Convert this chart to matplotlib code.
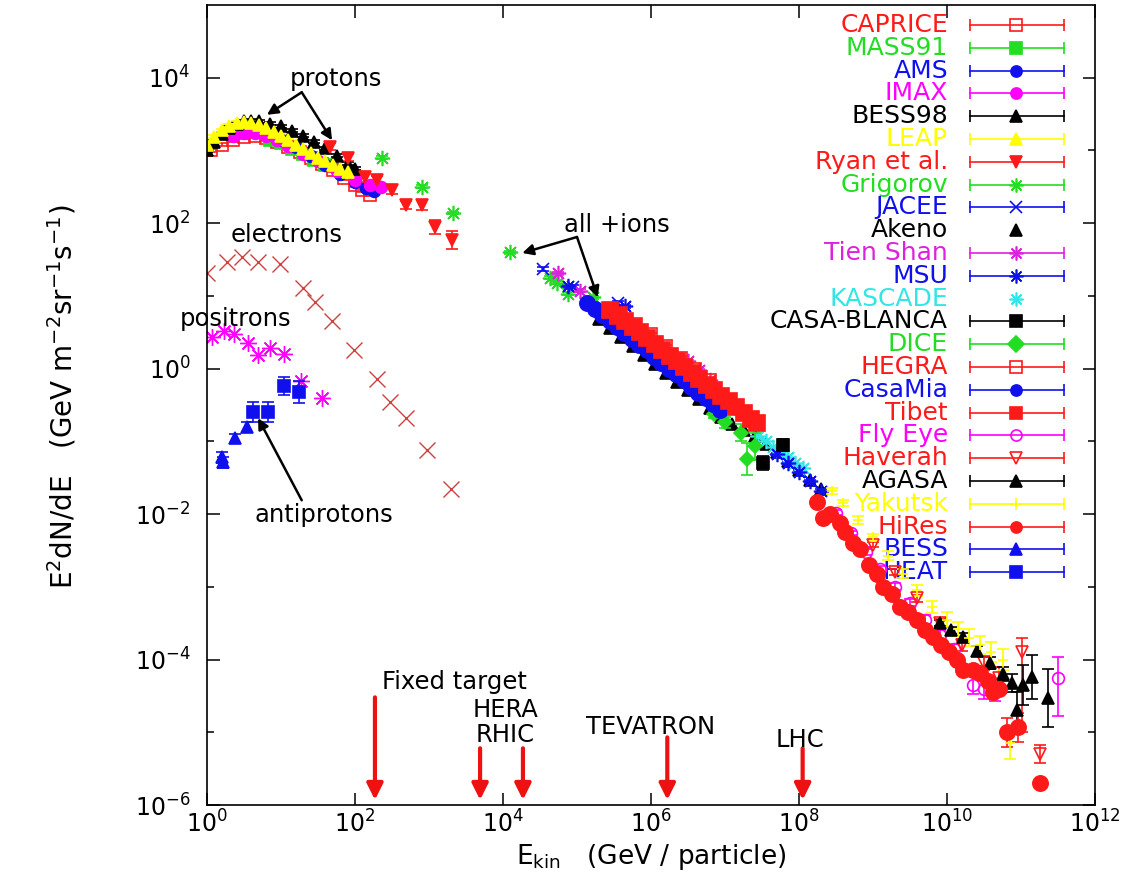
import numpy as np
import matplotlib
matplotlib.use("Agg")
import matplotlib.pyplot as plt
from matplotlib.ticker import NullLocator, NullFormatter, FuncFormatter, FixedLocator

plt.rcParams['font.family'] = 'DejaVu Sans'
plt.rcParams['mathtext.default'] = 'regular'

# all values as log10(E_kin / GeV), log10(E^2 dN/dE); errors in dex
caprice_x = [0.05, 0.2, 0.35, 0.5, 0.65, 0.8, 0.95, 1.1, 1.25, 1.4, 1.55, 1.7, 1.85, 2.0, 2.1, 2.2]
caprice_y = [3.0, 3.08, 3.14, 3.18, 3.2, 3.17, 3.12, 3.05, 2.98, 2.9, 2.82, 2.73, 2.62, 2.52, 2.45, 2.39]
caprice_e = [0.02] * 16

mass91_x = [0.85, 1.0, 1.15, 1.3, 1.45, 1.6]
mass91_y = [3.15, 3.1, 3.02, 2.95, 2.87, 2.8]
mass91_e = [0.02] * 6

ams_x = [1.0, 1.2, 1.4, 1.6, 1.8, 2.0, 2.15, 2.25]
ams_y = [3.15, 3.05, 2.93, 2.8, 2.68, 2.57, 2.48, 2.44]
ams_e = [0.02] * 8

imax_x = [0.35, 0.5, 0.65, 0.8, 0.95, 1.1, 1.3, 1.5, 1.75, 2.0, 2.2, 2.35]
imax_y = [3.2, 3.24, 3.24, 3.2, 3.14, 3.06, 2.95, 2.85, 2.72, 2.6, 2.52, 2.5]
imax_e = [0.02] * 12

bess98_x = [0.0, 0.1, 0.2, 0.3, 0.4, 0.5, 0.6, 0.7, 0.85, 1.0, 1.15, 1.3, 1.45, 1.6, 1.75, 1.9, 2.0]
bess98_y = [3.0, 3.12, 3.23, 3.31, 3.37, 3.40, 3.41, 3.40, 3.37, 3.33, 3.27, 3.2, 3.12, 3.03, 2.93, 2.82, 2.75]
bess98_e = [0.02] * 17

leap_x = [0.0, 0.1, 0.2, 0.3, 0.4, 0.5, 0.6, 0.7, 0.8, 0.9, 1.0, 1.1, 1.2, 1.3, 1.4, 1.5, 1.6, 1.7, 1.8, 1.9]
leap_y = [3.08, 3.19, 3.28, 3.34, 3.38, 3.39, 3.38, 3.35, 3.31, 3.26, 3.20, 3.14, 3.08, 3.02, 2.96, 2.9, 2.85, 2.8, 2.75, 2.71]
leap_e = [0.02] * 20

ryan_x = [1.66, 1.9, 2.14, 2.3, 2.5, 2.69, 2.9, 3.08, 3.31]
ryan_y = [3.05, 2.9, 2.63, 2.59, 2.46, 2.25, 2.25, 1.95, 1.77]
ryan_e = [0.05, 0.05, 0.06, 0.06, 0.06, 0.05, 0.07, 0.1, 0.12]

grigorov_x = [2.37, 2.91, 3.32, 4.09, 4.64, 4.73, 4.88, 5.22]
grigorov_y = [2.9, 2.5, 2.14, 1.6, 1.25, 1.18, 1.03, 0.98]
grigorov_e = [0.02] * 8

jacee_x = [4.54, 4.95, 5.55]
jacee_y = [1.37, 1.12, 0.90]
jacee_e = [0.03, 0.03, 0.03]

akeno_x = [5.3, 5.45, 5.6, 5.75, 5.9, 6.05, 6.2, 6.35, 6.5, 6.65, 6.8, 6.95, 7.1, 7.25, 7.4,
           7.55, 7.7, 7.85, 8.0, 8.15, 8.3]
akeno_y = [0.68, 0.56, 0.44, 0.31, 0.19, 0.07, -0.06, -0.18, -0.30, -0.42, -0.54, -0.66, -0.76,
           -0.85, -0.93, -1.03, -1.15, -1.27, -1.40, -1.53, -1.66]

tienshan_x = [4.74, 5.04, 6.5, 6.65, 6.8]
tienshan_y = [1.31, 1.07, 0.10, -0.02, -0.15]
tienshan_e = [0.02] * 5

msu_x = [4.88, 5.65, 7.7, 7.85, 8.0, 8.15, 8.3]
msu_y = [1.13, 0.86, -1.18, -1.30, -1.42, -1.55, -1.68]
msu_e = [0.02] * 7

kascade_x = [7.45, 7.55, 7.65, 7.75, 7.85, 7.95, 8.05]
kascade_y = [-0.92, -1.0, -1.08, -1.15, -1.22, -1.30, -1.37]

casablanca_x = [7.52, 7.78]
casablanca_y = [-1.30, -1.05]
casablanca_e = [0.1, 0.08]

dice_x = [6.85, 7.0, 7.22, 7.30, 7.41]
dice_y = [-0.62, -0.74, -0.88, -1.24, -1.07]
dice_e = [0.06, 0.08, 0.12, 0.22, 0.18]

hegra_x = [5.6, 5.8, 6.0, 6.2, 6.4, 6.6, 6.8]
hegra_y = [0.77, 0.62, 0.47, 0.31, 0.15, 0.0, -0.15]
hegra_e = [0.02] * 7

casamia_x = [5.14, 5.24, 5.34, 5.44, 5.54, 5.64, 5.74, 5.84, 5.94, 6.04, 6.14, 6.24, 6.34,
             6.44, 6.54, 6.64, 6.74, 6.84, 6.93]
casamia_y = [0.90, 0.82, 0.74, 0.66, 0.57, 0.49, 0.41, 0.33, 0.25, 0.16, 0.08, 0.00, -0.08,
             -0.16, -0.25, -0.33, -0.41, -0.49, -0.57]
casamia_e = [0.02] * 19

tibet_x = [5.45, 5.55, 5.65, 5.75, 5.85, 5.95, 6.05, 6.15, 6.25, 6.35, 6.45, 6.55, 6.65, 6.75,
           6.85, 6.95, 7.05, 7.15, 7.25, 7.35, 7.43]
tibet_y = [0.81, 0.73, 0.65, 0.57, 0.50, 0.42, 0.34, 0.26, 0.18, 0.10, 0.02, -0.06, -0.14, -0.22,
           -0.30, -0.38, -0.45, -0.53, -0.61, -0.69, -0.75]
tibet_e = [0.02] * 21

flyeye_x = [8.5, 8.7, 8.9, 9.1, 9.3, 9.5, 9.7, 9.9, 10.1, 10.35, 10.5, 10.65, 11.5]
flyeye_y = [-1.98, -2.26, -2.52, -2.76, -3.0, -3.22, -3.45, -3.66, -3.86, -4.35, -4.4, -4.42, -4.25]
flyeye_e = [[0.03, 0.03, 0.04, 0.04, 0.05, 0.05, 0.06, 0.07, 0.08, 0.12, 0.14, 0.15, 0.52],
            [0.03, 0.03, 0.04, 0.04, 0.05, 0.05, 0.06, 0.07, 0.08, 0.12, 0.14, 0.15, 0.28]]

haverah_x = [9.0, 9.3, 9.6, 9.9, 10.2, 10.5, 10.7, 11.01, 11.26]
haverah_y = [-2.42, -2.80, -3.16, -3.50, -3.80, -4.05, -4.25, -3.90, -5.30]
haverah_e = [[0.03, 0.04, 0.05, 0.06, 0.08, 0.1, 0.15, 1.1, 0.12],
             [0.03, 0.04, 0.05, 0.06, 0.08, 0.1, 0.15, 0.2, 0.12]]

agasa_x = [9.9, 10.05, 10.22, 10.4, 10.58, 10.75, 10.88, 10.95, 11.03, 11.15, 11.36]
agasa_y = [-3.5, -3.6, -3.69, -3.88, -4.05, -4.2, -4.32, -4.70, -4.35, -4.24, -4.53]
agasa_e = [0.04, 0.05, 0.06, 0.07, 0.08, 0.1, 0.12, 0.25, 0.28, 0.3, 0.4]

yakutsk_x = [8.45, 8.6, 8.8, 9.0, 9.2, 9.4, 9.6, 9.8, 10.0, 10.15, 10.3, 10.45, 10.6, 10.75, 10.85]
yakutsk_y = [-1.68, -1.85, -2.08, -2.32, -2.57, -2.82, -3.05, -3.28, -3.45, -3.58, -3.70, -3.80,
             -3.90, -4.0, -5.15]
yakutsk_e = [0.04, 0.04, 0.05, 0.05, 0.06, 0.06, 0.07, 0.08, 0.1, 0.1, 0.12, 0.13, 0.14, 0.15, 0.22]

hires_x = [8.24, 8.32, 8.42, 8.55, 8.62, 8.73, 8.82, 8.95, 9.05, 9.14, 9.25, 9.36, 9.47, 9.59,
           9.70, 9.81, 9.92, 10.03, 10.13, 10.22, 10.35, 10.45, 10.55, 10.62, 10.70, 10.81,
           10.96, 11.26]
hires_y = [-1.84, -2.05, -2.00, -2.12, -2.25, -2.40, -2.48, -2.70, -2.82, -3.00, -3.10, -3.28,
           -3.35, -3.46, -3.60, -3.69, -3.80, -3.90, -4.00, -4.14, -4.15, -4.19, -4.30, -4.45,
           -4.40, -5.00, -4.93, -5.70]
hires_e = [0.02] * 25 + [0.2, 0.2, 0.03]

bess_x = [0.2, 0.22, 0.38, 0.54]
bess_y = [-1.22, -1.29, -0.96, -0.80]
bess_e = [0.08, 0.08, 0.06, 0.07]

heat_x = [0.62, 0.82, 1.04, 1.24]
heat_y = [-0.60, -0.60, -0.24, -0.32]
heat_e = [0.14, 0.14, 0.12, 0.15]

electron_x = [0.0, 0.27, 0.47, 0.69, 0.99, 1.30, 1.46, 1.69, 1.99, 2.30, 2.47, 2.69, 2.97, 3.30]
electron_y = [1.31, 1.46, 1.53, 1.46, 1.44, 1.11, 0.92, 0.65, 0.26, -0.14, -0.46, -0.68, -1.12, -1.66]

positron_x = [0.07, 0.23, 0.36, 0.55, 0.69, 0.85, 1.04, 1.27, 1.55]
positron_y = [0.43, 0.52, 0.48, 0.35, 0.19, 0.28, 0.20, -0.17, -0.40]

# accelerator energies (GeV) and where their arrows start
acc_E = [186, 4.9e3, 1.86e4, 1.66e6, 1.12e8]
acc_top = [10**-4.52, 10**-5.22, 10**-5.22, 10**-5.07, 10**-5.22]

RED, GREEN, BLUE = '#ff1a1a', '#22dd22', '#1010ee'
MAGENTA, BLACK, YELLOW, CYAN = '#ff00ff', '#000000', '#ffff00', '#33e6e6'
STAR = (8, 2, 0)

# name -> (colour, marker, filled, errorbar in key)
style = {
    'CAPRICE': (RED, 's', False, True),
    'MASS91': (GREEN, 's', True, True),
    'AMS': (BLUE, 'o', True, True),
    'IMAX': (MAGENTA, 'o', True, True),
    'BESS98': (BLACK, '^', True, True),
    'LEAP': (YELLOW, '^', True, True),
    'Ryan et al.': (RED, 'v', True, True),
    'Grigorov': (GREEN, STAR, True, True),
    'JACEE': (BLUE, 'x', True, True),
    'Akeno': (BLACK, '^', True, False),
    'Tien Shan': ('#dd22dd', STAR, True, True),
    'MSU': (BLUE, STAR, True, True),
    'KASCADE': (CYAN, STAR, True, False),
    'CASA-BLANCA': (BLACK, 's', True, True),
    'DICE': (GREEN, 'D', True, True),
    'HEGRA': (RED, 's', False, True),
    'CasaMia': (BLUE, 'o', True, True),
    'Tibet': (RED, 's', True, True),
    'Fly Eye': (MAGENTA, 'o', False, True),
    'Haverah': (RED, 'v', False, True),
    'AGASA': (BLACK, '^', True, True),
    'Yakutsk': (YELLOW, '+', True, True),
    'HiRes': (RED, 'o', True, True),
    'BESS': (BLUE, '^', True, True),
    'HEAT': (BLUE, 's', True, True),
}

data = {
    'CAPRICE': (caprice_x, caprice_y, caprice_e),
    'MASS91': (mass91_x, mass91_y, mass91_e),
    'AMS': (ams_x, ams_y, ams_e),
    'IMAX': (imax_x, imax_y, imax_e),
    'BESS98': (bess98_x, bess98_y, bess98_e),
    'LEAP': (leap_x, leap_y, leap_e),
    'Ryan et al.': (ryan_x, ryan_y, ryan_e),
    'Grigorov': (grigorov_x, grigorov_y, grigorov_e),
    'JACEE': (jacee_x, jacee_y, jacee_e),
    'Akeno': (akeno_x, akeno_y, None),
    'Tien Shan': (tienshan_x, tienshan_y, tienshan_e),
    'MSU': (msu_x, msu_y, msu_e),
    'KASCADE': (kascade_x, kascade_y, None),
    'CASA-BLANCA': (casablanca_x, casablanca_y, casablanca_e),
    'DICE': (dice_x, dice_y, dice_e),
    'HEGRA': (hegra_x, hegra_y, hegra_e),
    'CasaMia': (casamia_x, casamia_y, casamia_e),
    'Tibet': (tibet_x, tibet_y, tibet_e),
    'Fly Eye': (flyeye_x, flyeye_y, flyeye_e),
    'Haverah': (haverah_x, haverah_y, haverah_e),
    'AGASA': (agasa_x, agasa_y, agasa_e),
    'Yakutsk': (yakutsk_x, yakutsk_y, yakutsk_e),
    'HiRes': (hires_x, hires_y, hires_e),
    'BESS': (bess_x, bess_y, bess_e),
    'HEAT': (heat_x, heat_y, heat_e),
}

msizes = {'Tibet': 12, 'CasaMia': 11, 'HiRes': 11, 'DICE': 7, 'Yakutsk': 7, 'Akeno': 9}

fig = plt.figure(figsize=(11.27, 8.77), dpi=100)
ax = fig.add_axes([207 / 1127, 1 - 805 / 877, 888 / 1127, 800 / 877])
ax.set_xscale('log')
ax.set_yscale('log')

for i, name in enumerate(style):
    col, mk, filled, _ = style[name]
    lx, ly, le = data[name]
    E = 10.0 ** np.array(lx)
    F = 10.0 ** np.array(ly)
    ms = msizes.get(name, 11 if mk == STAR else 8.5)
    kw = dict(color=col, mec=col, mfc=col if filled else 'none', ms=ms, mew=1.2,
              marker=mk, linestyle='none', zorder=2 + 0.01 * i)
    if le is None:
        ax.plot(E, F, **kw)
        continue
    le = np.atleast_2d(le)
    lo, hi = le[0], le[-1]
    yerr = [F - 10.0 ** (np.array(ly) - lo), 10.0 ** (np.array(ly) + hi) - F]
    ax.errorbar(E, F, yerr=yerr, elinewidth=1.2, capsize=4.5, capthick=1.2, **kw)

ax.plot(10.0 ** np.array(electron_x), 10.0 ** np.array(electron_y), 'x', color='#cc4040',
        ms=11, mew=1, zorder=2)
ax.plot(10.0 ** np.array(positron_x), 10.0 ** np.array(positron_y), linestyle='none',
        marker=STAR, color=MAGENTA, ms=12, mew=1, zorder=2)

# key, drawn by hand: names right aligned, bar sample to the right
for i, name in enumerate(style):
    col, mk, filled, bar = style[name]
    y = 0.975 - 0.0285 * i
    ax.text(0.8345, y, name, color=col, ha='right', va='center', fontsize=18,
            transform=ax.transAxes, zorder=1)
    if bar:
        ax.plot([0.859, 0.965], [y, y], color=col, lw=1.2, marker='|', ms=9, mew=1.2,
                transform=ax.transAxes, zorder=1)
    ax.plot([0.911], [y], marker=mk, color=col, mec=col, mfc=col if filled else 'none',
            ms=10 if mk == STAR else 8, mew=1.2, transform=ax.transAxes, zorder=1)

# labels and black arrows
note_kw = dict(fontsize=17.5, ha='center', va='center', zorder=6)
ax.text(10**1.74, 10**3.98, 'protons', **note_kw)
ax.text(10**1.08, 10**1.84, 'electrons', **note_kw)
ax.text(10**0.38, 10**0.68, 'positrons', **note_kw)
ax.text(10**1.58, 10**-2.01, 'antiprotons', **note_kw)
ax.text(10**5.54, 10**1.97, 'all +ions', **note_kw)

arrow_k = dict(arrowstyle='-|>', color='k', lw=1.8, mutation_scale=16, shrinkA=0, shrinkB=0)
for tip in [(10**0.81, 10**3.49), (10**1.69, 10**3.14)]:
    ax.annotate('', xy=tip, xytext=(10**1.28, 10**3.80), arrowprops=arrow_k, zorder=6)
for tip in [(10**4.26, 10**1.59), (10**5.28, 10**0.98)]:
    ax.annotate('', xy=tip, xytext=(10**5.0, 10**1.81), arrowprops=arrow_k, zorder=6)
ax.annotate('', xy=(10**0.69, 10**-0.68), xytext=(10**1.28, 10**-1.81), arrowprops=arrow_k,
            zorder=6)

# accelerators
arrow_r = dict(arrowstyle='-|>', color='#ee1111', lw=3, mutation_scale=24, shrinkA=0, shrinkB=0)
for E, top in zip(acc_E, acc_top):
    ax.annotate('', xy=(E, 10**-5.93), xytext=(E, top), arrowprops=arrow_r, zorder=6)
ax.text(10**3.35, 10**-4.31, 'Fixed target', **note_kw)
ax.text(10**4.03, 10**-4.70, 'HERA', **note_kw)
ax.text(10**4.03, 10**-5.04, 'RHIC', **note_kw)
ax.text(10**5.99, 10**-4.93, 'TEVATRON', **note_kw)
ax.text(10**8.01, 10**-5.11, 'LHC', **note_kw)

ax.set_xlim(1, 1e12)
ax.set_ylim(1e-6, 1e5)
decade = FuncFormatter(lambda v, _: r'$10^{%d}$' % round(np.log10(v)))
ax.xaxis.set_major_locator(FixedLocator(10.0 ** np.arange(0, 13, 2)))
ax.xaxis.set_minor_locator(NullLocator())
ax.yaxis.set_major_locator(FixedLocator(10.0 ** np.arange(-6, 5, 2)))
ax.yaxis.set_minor_locator(FixedLocator(10.0 ** np.arange(-5, 5, 2)))
ax.yaxis.set_minor_formatter(NullFormatter())
ax.xaxis.set_major_formatter(decade)
ax.yaxis.set_major_formatter(decade)
ax.tick_params(which='both', direction='in', top=True, right=True, width=1.1, labelsize=17)
ax.tick_params(which='major', length=9)
ax.tick_params(which='minor', length=5)
ax.tick_params(axis='y', pad=12)
ax.tick_params(axis='x', pad=4)
for sp in ax.spines.values():
    sp.set_linewidth(1.2)

ax.set_xlabel(r'E$_{kin}$   (GeV / particle)', fontsize=19)
ax.set_ylabel(r'E$^{2}$dN/dE   (GeV m$^{-2}$sr$^{-1}$s$^{-1}$)', fontsize=20)
ax.xaxis.set_label_coords(0.5, -0.046)
ax.yaxis.set_label_coords(-0.145, 0.51)

fig.savefig('out.png', dpi=100)
